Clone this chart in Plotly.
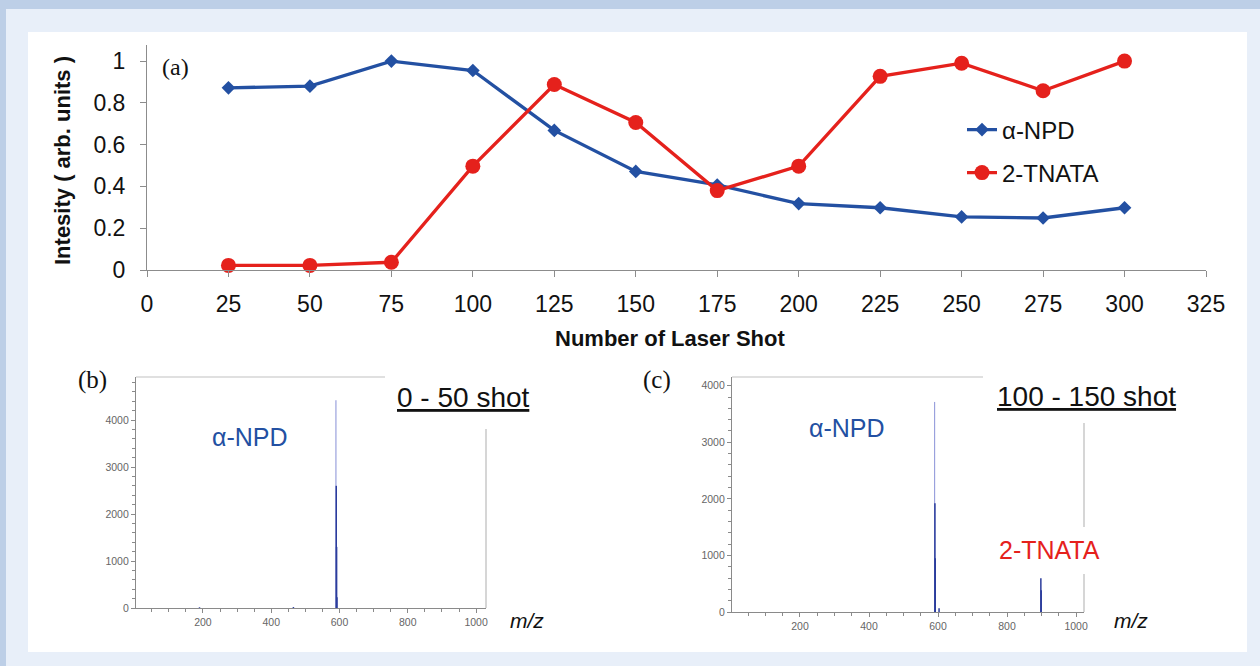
import plotly.graph_objects as go

# ---- data -------------------------------------------------------------
shots = [25, 50, 75, 100, 125, 150, 175, 200, 225, 250, 275, 300]
npd_intensity = [0.872, 0.880, 1.000, 0.955, 0.668, 0.472, 0.407, 0.318, 0.298, 0.254, 0.249, 0.298]
tnata_intensity = [0.022, 0.022, 0.037, 0.497, 0.888, 0.706, 0.380, 0.497, 0.927, 0.990, 0.858, 1.000]

# mass spectrum, 0 - 50 shots
mz_b = [190, 465, 589.5, 590.5, 591.5, 592.5]
counts_b = [15, 20, 4420, 2600, 1300, 230]
# mass spectrum, 100 - 150 shots
mz_c = [590, 591, 592, 603, 898, 899]
counts_c = [3713, 1924, 950, 65, 596, 384]

y_ticks = [0, 0.2, 0.4, 0.6, 0.8, 1.0]
y_ticklabels = ["0", "0.2", "0.4", "0.6", "0.8", "1"]
mz_ticks = [200, 400, 600, 800, 1000]
count_ticks = [0, 1000, 2000, 3000, 4000]

BLUE = "#2350a2"
RED = "#e5211c"
SPEC_DARK = "#2b3c9c"
SPEC_LIGHT = "rgba(120,130,210,0.75)"
FONT = "Liberation Sans, Arial, sans-serif"
SERIF = "Liberation Serif, Times New Roman, serif"

W, H = 1260, 666


def fx(p):
    return p / W


def fy(p):
    return 1 - p / H


def stems(mz, counts):
    xs, ys = [], []
    for m, c in zip(mz, counts):
        xs += [m, m, None]
        ys += [0, c, None]
    return xs, ys


fig = go.Figure()

# ---- panel (a): intensity vs laser shots --------------------------------
fig.add_trace(go.Scatter(
    x=shots, y=npd_intensity, name="α-NPD", mode="lines+markers",
    line=dict(color=BLUE, width=3.3),
    marker=dict(symbol="diamond", size=10.5, color=BLUE),
    cliponaxis=False, legend="legend", xaxis="x", yaxis="y"))
fig.add_trace(go.Scatter(
    x=shots, y=tnata_intensity, name="2-TNATA", mode="lines+markers",
    line=dict(color=RED, width=3.3),
    marker=dict(symbol="circle", size=15, color=RED),
    cliponaxis=False, legend="legend2", xaxis="x", yaxis="y"))

# ---- panels (b) and (c): mass spectra ----------------------------------
def add_spectrum(mz, counts, xa, ya):
    tall = max(range(len(counts)), key=lambda i: counts[i])
    others = [i for i in range(len(counts)) if i != tall]
    xs, ys = stems([mz[tall]], [counts[tall]])
    fig.add_trace(go.Scatter(x=xs, y=ys, mode="lines", showlegend=False,
                             line=dict(color=SPEC_LIGHT, width=1.2),
                             xaxis=xa, yaxis=ya, hoverinfo="skip"))
    xs, ys = stems([mz[i] for i in others], [counts[i] for i in others])
    fig.add_trace(go.Scatter(x=xs, y=ys, mode="lines", showlegend=False,
                             line=dict(color=SPEC_DARK, width=1.5),
                             xaxis=xa, yaxis=ya, hoverinfo="skip"))


add_spectrum(mz_b, counts_b, "x2", "y2")
add_spectrum(mz_c, counts_c, "x3", "y3")

main_axis = dict(showgrid=False, zeroline=False, showline=True,
                 linecolor="#8c8c8c", linewidth=1, ticks="outside",
                 ticklen=6, tickcolor="#8c8c8c", automargin=False,
                 tickfont=dict(family=FONT, size=23, color="#111111"))
spec_axis = dict(showgrid=False, zeroline=False, showline=True,
                 linecolor="#8a8a8a", linewidth=1.2, ticks="outside",
                 ticklen=4, tickcolor="#8a8a8a", automargin=False,
                 tickfont=dict(family=FONT, size=10.5, color="#666666"))
minor_x = dict(dtick=50, tick0=0, ticks="outside", ticklen=3, tickcolor="#8a8a8a")
minor_y = dict(dtick=200, tick0=0, ticks="outside", ticklen=3, tickcolor="#8a8a8a")

fig.update_layout(
    width=W, height=H,
    autosize=False,
    margin=dict(l=0, r=0, t=0, b=0, pad=0, autoexpand=False),
    paper_bgcolor="#e8eff9",
    plot_bgcolor="rgba(0,0,0,0)",
    xaxis=dict(main_axis, domain=[fx(147), fx(1206)], range=[0, 325],
               tick0=0, dtick=25, anchor="y", ticklabelstandoff=7),
    yaxis=dict(main_axis, domain=[fy(270), fy(45)], range=[0, 1.077],
               tickvals=y_ticks, ticktext=y_ticklabels, anchor="x",
               ticklabelstandoff=10),
    xaxis2=dict(spec_axis, domain=[fx(136), fx(486)], range=[4, 1029],
                tickvals=mz_ticks, anchor="y2", minor=minor_x),
    yaxis2=dict(spec_axis, domain=[fy(608), fy(377)], range=[0, 4915],
                tickvals=count_ticks, anchor="x2", minor=minor_y),
    xaxis3=dict(spec_axis, domain=[fx(732), fx(1084)], range=[3, 1023],
                tickvals=mz_ticks, anchor="y3", minor=minor_x),
    yaxis3=dict(spec_axis, domain=[fy(612), fy(377)], range=[0, 4154],
                tickvals=count_ticks, anchor="x3", minor=minor_y),
    legend=dict(x=fx(962), y=fy(130), xanchor="left", yanchor="middle",
                bgcolor="rgba(0,0,0,0)", itemwidth=30,
                font=dict(family=FONT, size=24, color="#111111")),
    legend2=dict(x=fx(962), y=fy(173), xanchor="left", yanchor="middle",
                 bgcolor="rgba(0,0,0,0)", itemwidth=30,
                 font=dict(family=FONT, size=24, color="#111111")),
)

# ---- frame: darker strips, white card, partial spectrum boxes ----------
shapes = [
    dict(type="rect", xref="paper", yref="paper", x0=0, x1=1, y0=fy(9), y1=1,
         fillcolor="#bdcfe7", line_width=0, layer="below"),
    dict(type="rect", xref="paper", yref="paper", x0=0, x1=fx(6), y0=0, y1=1,
         fillcolor="#bdcfe7", line_width=0, layer="below"),
    dict(type="rect", xref="paper", yref="paper", x0=fx(28), x1=fx(1247),
         y0=fy(652), y1=fy(32), fillcolor="white", line_width=0, layer="below"),
    # (b) box edges
    dict(type="line", xref="paper", yref="paper", x0=fx(136), x1=fx(385),
         y0=fy(377), y1=fy(377), line=dict(color="#d6d6d6", width=1.5)),
    dict(type="line", xref="paper", yref="paper", x0=fx(486), x1=fx(486),
         y0=fy(429), y1=fy(608), line=dict(color="#c8c8c8", width=1.5)),
    # (c) box edges
    dict(type="line", xref="paper", yref="paper", x0=fx(732), x1=fx(983),
         y0=fy(377), y1=fy(377), line=dict(color="#d6d6d6", width=1.5)),
    dict(type="line", xref="paper", yref="paper", x0=fx(1084), x1=fx(1084),
         y0=fy(423), y1=fy(527), line=dict(color="#c8c8c8", width=1.5)),
    dict(type="line", xref="paper", yref="paper", x0=fx(1084), x1=fx(1084),
         y0=fy(574), y1=fy(612), line=dict(color="#c8c8c8", width=1.5)),
]
fig.update_layout(shapes=shapes)


def label(text, x, y, size, color="#111111", family=FONT, angle=0):
    fig.add_annotation(text=text, x=fx(x), y=fy(y), xref="paper", yref="paper",
                       showarrow=False, xanchor="center", yanchor="middle",
                       textangle=angle,
                       font=dict(family=family, size=size, color=color))


label("<b>Number of Laser Shot</b>", 670, 338, 22)
label("<b>Intesity ( arb. units )</b>", 62, 161, 22, angle=-90)
label("(a)", 175, 67, 24, family=SERIF)
label("(b)", 92, 380, 25, family=SERIF)
label("(c)", 657, 380, 25, family=SERIF)
label("α-NPD", 250, 437, 25, color=BLUE)
label("α-NPD", 847, 428, 25, color=BLUE)
label("2-TNATA", 1049, 550, 25, color=RED)
label("<u>0 - 50 shot</u>", 463, 397, 28)
label("<u>100 - 150 shot</u>", 1086, 396, 28)
label("<i>m/z</i>", 527, 620, 21)
label("<i>m/z</i>", 1131, 620, 21)

fig.write_html("out.html")
